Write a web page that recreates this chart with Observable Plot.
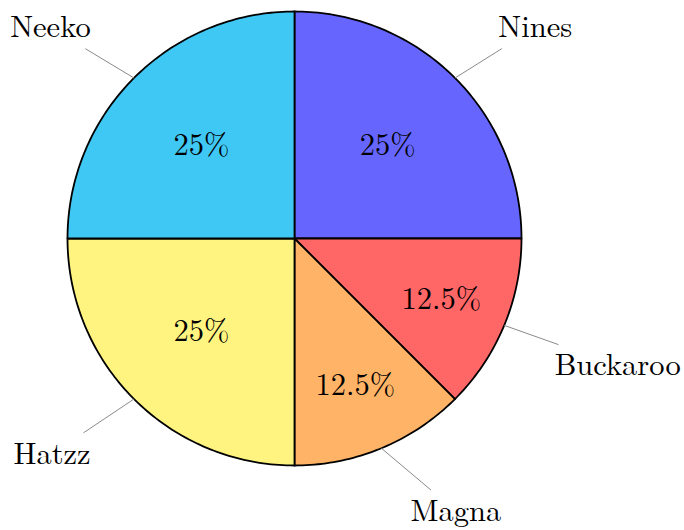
<!DOCTYPE html>
<html><head><meta charset="utf-8">
<script src="https://cdn.jsdelivr.net/npm/d3@7"></script>
<script src="https://cdn.jsdelivr.net/npm/@observablehq/plot@0.6"></script>
<style>body{margin:0;background:#fff} #chart{width:684px;height:530px} #chart svg, #chart svg text{font-family:'Latin Modern Roman','Liberation Serif',serif}</style>
</head><body><div id="chart"></div>
<script>
// ---- data ----
const names = ["Nines", "Buckaroo", "Magna", "Hatzz", "Neeko"];
const values = [25, 12.5, 12.5, 25, 25];
const pctLabels = ["25%", "12.5%", "12.5%", "25%", "25%"];
const colors = ["#6666ff", "#ff6666", "#ffb366", "#fff480", "#40c8f4"];

// ---- layout ----
const W = 684, H = 530, R = 227, cx = 294, cy = 238;
const FONT = "'Latin Modern Roman', 'Liberation Serif', serif";
const FS = 30.5;
const rows = names.map((n, i) => ({name: n, value: values[i], pct: pctLabels[i]}));
const arcs = d3.pie().sort(null).value(d => d.value).startAngle(0).endAngle(2 * Math.PI)(rows);
const pt = (a, r) => ({x: r * Math.sin(a), y: -r * Math.cos(a)});

const poly = [];
arcs.forEach(a => {
  poly.push({name: a.data.name, ...pt(0, 0)});
  const n = Math.ceil((a.endAngle - a.startAngle) / (Math.PI / 180));
  for (let k = 0; k <= n; k++) {
    const t = a.startAngle + (a.endAngle - a.startAngle) * k / n;
    poly.push({name: a.data.name, ...pt(t, 1)});
  }
});

const ctx = document.createElement("canvas").getContext("2d");
ctx.font = `${FS}px ${FONT}`;
const labels = arcs.map(a => {
  const mid = (a.startAngle + a.endAngle) / 2;
  const frac = a.data.value / d3.sum(values);
  const inner = pt(mid, frac >= 0.2 ? 0.58 : 0.7);
  const w = ctx.measureText(a.data.name).width;
  const A = pt(mid, 1.27);
  const sn = Math.sin(mid), cs = Math.cos(mid);
  const sgn = sn > 0 ? 1 : -1;
  const upper = cs > 0;
  const offY = upper ? -7 : 4 + 15 * sn * sn;
  const offX = sgn * (w / 2)
    + (upper ? 0 : sgn * 9 * Math.max(0, cs * cs - 0.6) / 0.4)
    - sgn * 6 * Math.max(0, sn * sn - 0.6) / 0.25;
  const C = {x: A.x + offX / R, y: A.y + offY / R};
  const S = pt(mid, 1);
  const dx = (S.x - C.x) * R, dy = (S.y - C.y) * R;
  const hw = w / 2 + 3, hh = 21;
  const s = Math.min(hw / Math.abs(dx), hh / Math.abs(dy));
  return {
    name: a.data.name, pct: a.data.pct,
    ix: inner.x, iy: inner.y,
    lx: C.x, ly: C.y,
    x1: S.x, y1: S.y, x2: C.x + s * (S.x - C.x), y2: C.y + s * (S.y - C.y)
  };
});

const chart = Plot.plot({
  width: W, height: H,
  margin: 0,
  x: {domain: [-cx / R, (W - cx) / R], range: [0, W], axis: null},
  y: {domain: [-cy / R, (H - cy) / R], range: [0, H], axis: null},
  color: {domain: names, range: colors},
  style: {background: "white"},
  marks: [
    Plot.line(poly, {x: "x", y: "y", z: "name", fill: "name", stroke: "black", strokeWidth: 1.8, curve: "linear-closed", strokeLinejoin: "round"}),
    Plot.link(labels, {x1: "x1", y1: "y1", x2: "x2", y2: "y2", stroke: "#8a8a8a", strokeWidth: 1}),
    Plot.text(labels, {x: "ix", y: "iy", text: "pct", fontSize: FS, fontFamily: FONT, fill: "black"}),
    Plot.text(labels, {x: "lx", y: "ly", text: "name", fontSize: FS, fontFamily: FONT, fill: "black"})
  ]
});
document.getElementById("chart").append(chart);
chart.querySelectorAll("text").forEach(t => t.style.fontFamily = FONT);
</script>
</body></html>
